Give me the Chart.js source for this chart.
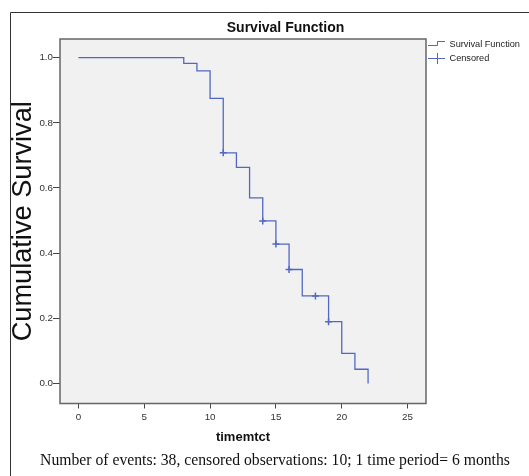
<!DOCTYPE html>
<html>
<head>
<meta charset="utf-8">
<script src="https://cdn.jsdelivr.net/npm/chart.js@4/dist/chart.umd.min.js"></script>
<style>
  body { margin: 0; background: #fff; }
  canvas { display: block; }
</style>
</head>
<body>
<canvas id="survChart" width="529" height="476"></canvas>
<script>
// Kaplan-Meier steps: time where survival drops, and the new level
const stepTimes = [0, 8, 9, 10, 11, 12, 13, 14, 15, 16, 17, 19, 20, 21, 22];
const survival = [1.0, 0.982, 0.959, 0.875, 0.708, 0.663, 0.570, 0.499, 0.428, 0.350, 0.269, 0.190, 0.093, 0.044, 0.0];

// censored marks
const censorTimes = [11, 14, 15, 16, 18, 19];
const censorSurv = [0.708, 0.499, 0.428, 0.350, 0.269, 0.190];

const xTickValues = [0, 5, 10, 15, 20, 25];
const yTickValues = [0.0, 0.2, 0.4, 0.6, 0.8, 1.0];

const lineColor = 'rgb(82, 104, 196)';
const sansFont = '"Liberation Sans", Arial, sans-serif';

Chart.defaults.font.family = sansFont;
Chart.defaults.color = '#333';

const decorPlugin = {
    id: 'decor',
    beforeDraw(chart) {
        const {ctx, chartArea: a} = chart;
        ctx.save();
        ctx.fillStyle = '#fff';
        ctx.fillRect(0, 0, chart.width, chart.height);
        ctx.fillStyle = '#f1f1f1';
        ctx.fillRect(a.left, a.top, a.right - a.left, a.bottom - a.top);
        ctx.restore();
    },
    afterDraw(chart) {
        const {ctx, chartArea: a} = chart;
        ctx.save();
        // outer frame (top + left)
        ctx.strokeStyle = '#333';
        ctx.lineWidth = 1;
        ctx.beginPath();
        ctx.moveTo(10.5, chart.height);
        ctx.lineTo(10.5, 12.5);
        ctx.lineTo(chart.width, 12.5);
        ctx.stroke();

        // plot border
        ctx.strokeStyle = '#666';
        ctx.lineWidth = 1.5;
        ctx.strokeRect(a.left, a.top, a.right - a.left, a.bottom - a.top);

        // title
        ctx.fillStyle = '#111';
        ctx.textAlign = 'center';
        ctx.textBaseline = 'middle';
        ctx.font = 'bold 14px ' + sansFont;
        ctx.fillText('Survival Function', 285.5, 28);

        // footnote
        ctx.font = '15.7px "Liberation Serif", "Times New Roman", serif';
        ctx.fillText('Number of events: 38, censored observations: 10; 1 time period= 6 months', 275, 461);

        // legend
        ctx.strokeStyle = lineColor;
        ctx.lineWidth = 1;
        ctx.beginPath();
        ctx.moveTo(428, 45.5);
        ctx.lineTo(437.5, 45.5);
        ctx.lineTo(437.5, 41.5);
        ctx.lineTo(445, 41.5);
        ctx.moveTo(428, 58.5);
        ctx.lineTo(445, 58.5);
        ctx.moveTo(437.5, 53);
        ctx.lineTo(437.5, 64);
        ctx.stroke();
        ctx.fillStyle = '#222';
        ctx.textAlign = 'left';
        ctx.font = '9.2px ' + sansFont;
        ctx.fillText('Survival Function', 449.5, 44.5);
        ctx.fillText('Censored', 449.5, 58.5);
        ctx.restore();
    }
};

new Chart(document.getElementById('survChart'), {
    type: 'line',
    data: {
        datasets: [
            {
                label: 'Survival Function',
                data: stepTimes.map((t, i) => ({x: t, y: survival[i]})),
                stepped: 'before',
                borderColor: lineColor,
                borderWidth: 1.3,
                pointRadius: 0,
                fill: false
            },
            {
                label: 'Censored',
                data: censorTimes.map((t, i) => ({x: t, y: censorSurv[i]})),
                showLine: false,
                pointStyle: 'cross',
                pointRadius: 3.5,
                borderColor: lineColor,
                borderWidth: 1.5
            }
        ]
    },
    options: {
        responsive: false,
        animation: false,
        devicePixelRatio: 1,
        layout: { padding: { top: 39, right: 103, left: 0, bottom: 0 } },
        plugins: {
            legend: { display: false },
            tooltip: { enabled: false }
        },
        scales: {
            x: {
                type: 'linear',
                min: -1.4,
                max: 26.4,
                afterFit: s => { s.height = 72.5; },
                afterBuildTicks: s => { s.ticks = xTickValues.map(v => ({value: v})); },
                grid: { drawOnChartArea: false, drawTicks: true, tickLength: 5, color: '#444' },
                border: { display: false },
                ticks: { font: { size: 9.8 }, padding: 2.5, maxRotation: 0, color: '#333' },
                title: {
                    display: true,
                    text: 'timemtct',
                    font: { size: 13, weight: 'bold' },
                    color: '#111',
                    padding: { top: 0, bottom: 31 }
                }
            },
            y: {
                type: 'linear',
                min: -0.061,
                max: 1.057,
                afterFit: s => { s.width = 60; },
                afterBuildTicks: s => { s.ticks = yTickValues.map(v => ({value: v})); },
                grid: { drawOnChartArea: false, drawTicks: true, tickLength: 7, color: '#444' },
                border: { display: false },
                ticks: { font: { size: 9.8 }, padding: 0, color: '#333', callback: v => v.toFixed(1) },
                title: {
                    display: true,
                    text: 'Cumulative Survival',
                    font: { size: 27.2 },
                    color: '#111',
                    padding: { top: 7.6, bottom: 0 }
                }
            }
        }
    },
    plugins: [decorPlugin]
});
</script>
</body>
</html>
